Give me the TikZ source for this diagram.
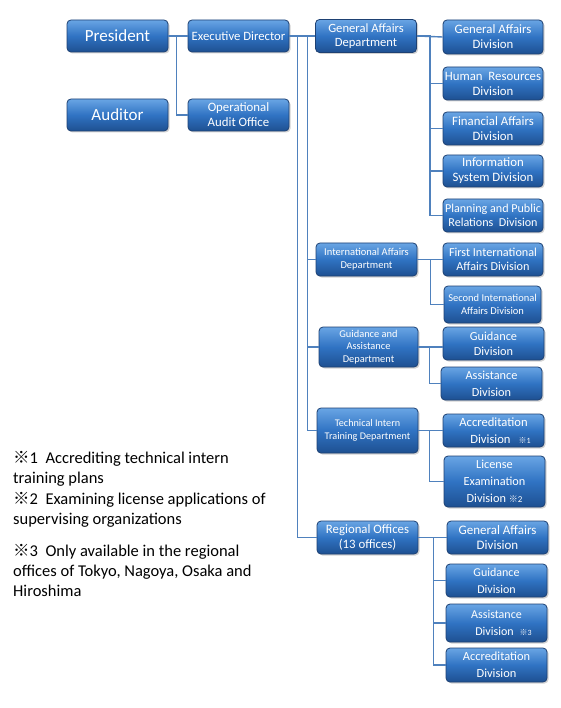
\documentclass[tikz,border=0pt]{standalone}
\usepackage{fontspec}
\setmainfont{Carlito}
\newfontfamily\cjk{Noto Sans CJK JP}
\usetikzlibrary{shadows}
\definecolor{boxtop}{RGB}{105,165,228}
\definecolor{boxmid}{RGB}{48,115,195}
\definecolor{boxbot}{RGB}{30,80,145}
\definecolor{boxline}{RGB}{30,65,115}
\definecolor{conn}{RGB}{79,129,189}
\newcommand{\kome}{{\cjk ※}}
\tikzset{
  orgbox/.style={draw=boxline, line width=0.8pt, rounded corners=4pt,
    top color=boxtop, bottom color=boxbot, middle color=boxmid,
    text=white, align=center, inner sep=1pt,
    font=\fontsize{12.8}{15}\selectfont,
    drop shadow={opacity=0.35, shadow xshift=1.5pt, shadow yshift=-1.5pt},
    minimum width=101pt, minimum height=33pt},
  bigbox/.style={orgbox, font=\fontsize{17}{20}\selectfont, minimum height=32pt},
  link/.style={draw=conn, line width=1.4pt},
  note/.style={anchor=north west, align=left, inner sep=0pt,
    font=\fontsize{16.5}{20}\selectfont, text=black}
}
\begin{document}
\begin{tikzpicture}[x=1pt,y=-1pt]
\useasboundingbox[fill=white] (0,0) rectangle (560,708);
% left column
\node[bigbox] (pres) at (117.5,36) {President};
\node[bigbox] (aud) at (117.5,115) {Auditor};
\node[orgbox, minimum height=32pt, font=\fontsize{12.7}{15}\selectfont] (exec) at (238.5,36) {Executive Director};
\node[orgbox, minimum height=32pt] (oao) at (238.5,115) {Operational\\Audit Office};
% departments
\node[orgbox, font=\fontsize{12.6}{14}\selectfont] (gad) at (366,36) {General Affairs\\Department};
\node[orgbox, font=\fontsize{10.5}{13}\selectfont] (iad) at (366.5,259.5) {International Affairs\\Department};
\node[orgbox, minimum width=99pt, minimum height=40pt, font=\fontsize{10.4}{12.5}\selectfont] (gaad) at (368.5,347) {Guidance and\\Assistance\\Department};
\node[orgbox, minimum height=45pt, font=\fontsize{10.2}{13}\selectfont] (tit) at (367.5,430.5) {Technical Intern\\Training Department};
\node[orgbox] (reg) at (367.5,537.5) {Regional Offices\\(13 offices)};
% divisions
\node[orgbox, minimum width=100pt, minimum height=34pt] (gadiv) at (493,37) {General Affairs\\Division};
\node[orgbox, minimum width=100pt] (hr) at (493,83.5) {Human\ \ Resources\\Division};
\node[orgbox, minimum width=100pt] (fin) at (493,128.5) {Financial Affairs\\Division};
\node[orgbox, minimum width=100pt, minimum height=32pt] (info) at (493,171) {Information\\System Division};
\node[orgbox, minimum width=100pt, font=\fontsize{12.1}{14.5}\selectfont] (plan) at (493,215.5) {Planning and Public\\Relations\ \ Division};
\node[orgbox, minimum width=100pt, font=\fontsize{12.2}{14}\selectfont] (fid) at (493,259.5) {First International\\Affairs Division};
\node[orgbox, minimum width=97pt, minimum height=37pt, font=\fontsize{10.5}{13}\selectfont] (sid) at (492.5,304.5) {Second International\\Affairs Division};
\node[orgbox, font=\fontsize{12.3}{15}\selectfont] (gd) at (493.5,343.5) {Guidance\\Division};
\node[orgbox, font=\fontsize{12.3}{17}\selectfont] (ad) at (491.5,383.5) {Assistance\\Division};
\node[orgbox, font=\fontsize{12.6}{17}\selectfont] (acc) at (493.5,430.5) {Accreditation\\\hspace*{14pt}Division\hspace{8pt}{\fontsize{8}{8}\selectfont\kome 1}};
\node[orgbox, minimum height=51pt, font=\fontsize{12.3}{17}\selectfont] (lic) at (494.5,481.5) {License\\Examination\\Division {\fontsize{9}{9}\selectfont\kome 2}};
\node[orgbox, font=\fontsize{13}{15}\selectfont] (rgad) at (497.5,537.5) {General Affairs\\Division};
\node[orgbox, font=\fontsize{12}{17}\selectfont] (rgd) at (496.5,580.5) {Guidance\\Division};
\node[orgbox, minimum height=38pt, font=\fontsize{12}{17}\selectfont] (rad) at (496.5,623) {Assistance\\\hspace*{14pt}Division\hspace{6pt}{\fontsize{8}{8}\selectfont\kome 3}};
\node[orgbox, minimum height=34pt, font=\fontsize{12.4}{17}\selectfont] (racc) at (496.5,665) {Accreditation\\Division};
% connectors
\draw[link] (pres.east) -- (exec.west);
\draw[link] (pres.east) -- ++(8,0) |- (oao.west);
\draw[link] (exec.east) -- (gad.west);
\draw[link] (exec.east) -- ++(8,0) |- (reg.west);
\foreach \n in {iad,gaad,tit} \draw[link] (exec.east) -- ++(18,0) |- (\n.west);
\draw[link] (gad.east) -- (gadiv.west);
\foreach \n in {hr,fin,info,plan} \draw[link] (gad.east) -- ++(13,0) |- (\n.west);
\draw[link] (iad.east) -- (fid.west);
\draw[link] (iad.east) -- ++(13,0) |- (sid.west);
\draw[link] (gaad.east) -- (gd.west |- gaad.east);
\draw[link] (gaad.east) -- ++(11,0) |- (ad.west);
\draw[link] (tit.east) -- (acc.west);
\draw[link] (tit.east) -- ++(11,0) |- (lic.west);
\draw[link] (reg.east) -- (rgad.west);
\foreach \n in {rgd,rad,racc} \draw[link] (reg.east) -- ++(15,0) |- (\n.west);
% notes
\node[note] (n1) at (13,451) {\kome1\ \ Accrediting technical intern\\training plans};
\node[note] (n2) at (13,492) {\kome2\ \ Examining license applications of\\supervising organizations};
\node[note] (n3) at (13,544) {\kome3\ \ Only available in the regional\\offices of Tokyo, Nagoya, Osaka and\\Hiroshima};
\end{tikzpicture}
\end{document}
